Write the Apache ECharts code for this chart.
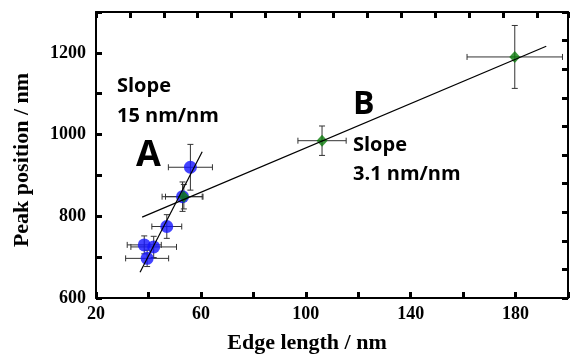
<!DOCTYPE html>
<html>
<head>
<meta charset="utf-8">
<script src="https://cdn.jsdelivr.net/npm/echarts@6/dist/echarts.min.js"></script>
<style>
  html, body { margin: 0; padding: 0; background: #fff; }
  #chart { width: 571px; height: 355px; }
</style>
</head>
<body>
<div id="chart"></div>
<script>
// group A (blue circles)
const blueX = [38.4, 42.0, 39.5, 47.0, 53.0, 56.0];
const blueY = [730, 725, 697, 775, 848, 920];
const blueXErr = [6.5, 8.7, 8.2, 5.7, 7.8, 8.4];
const blueYErr = [22, 26, 20, 29, 36, 56];

// group B (green diamonds)
const greenX = [53.5, 106.2, 179.7];
const greenY = [848, 985, 1190];
const greenXErr = [7.0, 9.2, 18.2];
const greenYErr = [30, 36, 77];

// fitted lines, end points
const fitA = [[36.8, 663], [60.5, 958]];
const fitB = [[37.6, 798], [191.7, 1216]];

const xTicks = [20, 60, 100, 140, 180];
const yTicks = [600, 800, 1000, 1200];

const serif = "'Liberation Serif', 'Times New Roman', serif";
const sans = "'Open Sans', 'Noto Sans', sans-serif";

function errRows(xs, ys, ex, ey) {
  return xs.map((x, i) => [x, ys[i], ex[i], ey[i]]);
}

function renderErr(params, api) {
  const x = api.value(0), y = api.value(1), dx = api.value(2), dy = api.value(3);
  const l = api.coord([x - dx, y]), r = api.coord([x + dx, y]);
  const t = api.coord([x, y + dy]), b = api.coord([x, y - dy]);
  const c = 3;
  const st = { stroke: "#333", lineWidth: 1 };
  const seg = (x1, y1, x2, y2) => ({ type: "line", shape: { x1, y1, x2, y2 }, style: st });
  return {
    type: "group",
    children: [
      seg(l[0], l[1], r[0], r[1]),
      seg(l[0], l[1] - c, l[0], l[1] + c),
      seg(r[0], r[1] - c, r[0], r[1] + c),
      seg(t[0], t[1], b[0], b[1]),
      seg(t[0] - c, t[1], t[0] + c, t[1]),
      seg(b[0] - c, b[1], b[0] + c, b[1]),
    ],
  };
}

// 2px black ticks did not show up in earlier runs, 3px ones did
const axisLine = () => ({ show: true, onZero: false, lineStyle: { color: "#000", width: 2 } });
const tick = () => ({ show: true, inside: true, length: 6, lineStyle: { color: "#000", width: 3 } });

const chart = echarts.init(document.getElementById("chart"), null, { renderer: "canvas" });

chart.setOption({
  animation: false,
  grid: { left: 96, right: 3, top: 12, bottom: 57, outerBoundsMode: "none" },
  xAxis: [
    {
      type: "value", min: 20, max: 200, interval: 20,
      axisLine: axisLine(), axisTick: tick(), splitLine: { show: false },
      axisLabel: {
        margin: 7, color: "#000", fontFamily: serif, fontWeight: "bold", fontSize: 18,
        formatter: (v) => (xTicks.includes(v) ? String(v) : ""),
      },
    },
    {
      type: "value", min: 0, max: 13.92, interval: 1, position: "top",
      axisLine: axisLine(), axisTick: tick(), axisLabel: { show: false }, splitLine: { show: false },
    },
  ],
  yAxis: [
    {
      type: "value", min: 600, max: 1300, interval: 100,
      axisLine: axisLine(), axisTick: tick(), splitLine: { show: false },
      axisLabel: {
        margin: 10, color: "#000", fontFamily: serif, fontWeight: "bold", fontSize: 18,
        formatter: (v) => (yTicks.includes(v) ? String(v) : ""),
      },
    },
    {
      type: "value", min: 0, max: 10, interval: 1, position: "right",
      axisLine: axisLine(), axisTick: tick(), axisLabel: { show: false }, splitLine: { show: false },
    },
  ],
  series: [
    {
      type: "custom", z: 1, renderItem: renderErr,
      data: errRows(blueX, blueY, blueXErr, blueYErr),
      encode: { x: 0, y: 1 },
    },
    {
      type: "custom", z: 1, renderItem: renderErr,
      data: errRows(greenX, greenY, greenXErr, greenYErr),
      encode: { x: 0, y: 1 },
    },
    {
      type: "scatter", z: 3, symbol: "diamond", symbolSize: [11, 12],
      itemStyle: { color: "#0d7d0d" },
      data: greenX.map((x, i) => [x, greenY[i]]),
    },
    {
      type: "scatter", z: 2, symbol: "circle", symbolSize: 13,
      itemStyle: { color: "#1414ff" },
      data: blueX.map((x, i) => [x, blueY[i]]),
    },
    {
      type: "line", z: 4, symbol: "none", data: fitA,
      lineStyle: { color: "#000", width: 1.2 },
    },
    {
      type: "line", z: 4, symbol: "none", data: fitB,
      lineStyle: { color: "#000", width: 1.2 },
    },
  ],
  graphic: [
    {
      type: "text", x: 307, y: 343,
      style: { text: "Edge length / nm", font: "bold 22px " + serif, fill: "#000", align: "center", verticalAlign: "middle" },
    },
    {
      type: "text", x: 22, y: 160, rotation: Math.PI / 2,
      style: { text: "Peak position / nm", font: "bold 22px " + serif, fill: "#000", align: "center", verticalAlign: "middle" },
    },
    {
      type: "text", x: 117, y: 71,
      style: { text: "Slope\n15 nm/nm", font: "bold 20px " + sans, lineHeight: 30, fill: "#000", align: "left", verticalAlign: "top" },
    },
    {
      type: "text", x: 353, y: 131,
      style: { text: "Slope\n3.1 nm/nm", font: "bold 20px " + sans, lineHeight: 29, fill: "#000", align: "left", verticalAlign: "top" },
    },
    {
      type: "text", x: 136, y: 156,
      style: { text: "A", font: "bold 36px " + sans, fill: "#000", align: "left", verticalAlign: "middle" },
    },
    {
      type: "text", x: 353, y: 105,
      style: { text: "B", font: "bold 32px " + sans, fill: "#000", align: "left", verticalAlign: "middle" },
    },
  ],
});
</script>
</body>
</html>
